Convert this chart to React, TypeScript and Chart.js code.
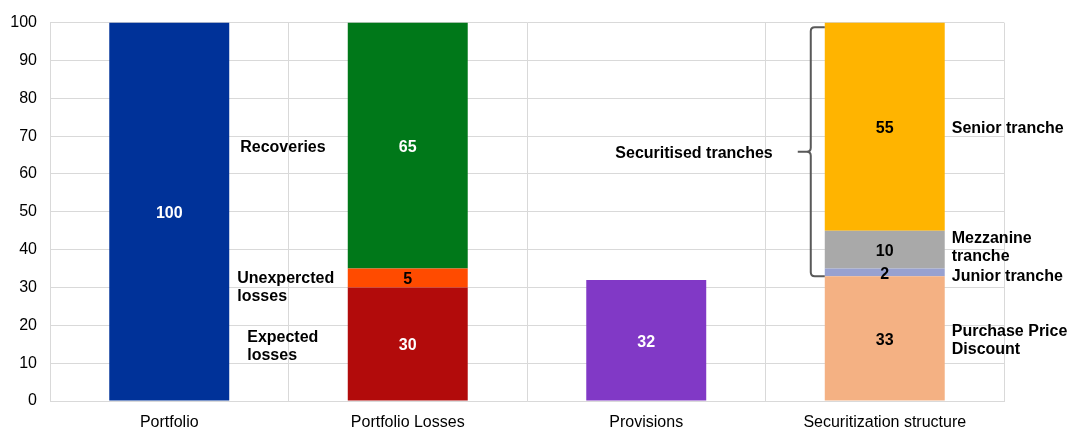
import React, { useEffect, useRef } from "react";
import { Chart, registerables } from "chart.js";

Chart.register(...registerables);

const categories = ["Portfolio", "Portfolio Losses", "Provisions", "Securitization structure"];
const yTicks = [0, 10, 20, 30, 40, 50, 60, 70, 80, 90, 100];

// stacked layers, bottom to top
const layer1 = [100, 30, 32, 33];
const layer2 = [null, 5, null, 2];
const layer3 = [null, 65, null, 10];
const layer4 = [null, null, null, 55];

const layer1Colors = ["#003299", "#B20B0B", "#8139C6", "#F4B183"];
const layer2Colors = ["#003299", "#FF4B00", "#8139C6", "#98A1D0"];
const layer3Colors = ["#003299", "#007819", "#8139C6", "#A9A9A9"];
const layer4Colors = ["#003299", "#007819", "#8139C6", "#FFB400"];

const layer1LabelColors = ["#FFFFFF", "#FFFFFF", "#FFFFFF", "#000000"];
const layer2LabelColors = ["#000000", "#000000", "#000000", "#000000"];
const layer3LabelColors = ["#FFFFFF", "#FFFFFF", "#FFFFFF", "#000000"];
const layer4LabelColors = ["#000000", "#000000", "#000000", "#000000"];

// side annotations: category, value (data coordinate) where the text block is centered
const annotations = [
  { cat: 0, value: 67.5, dx: 11, lines: ["Recoveries"] },
  { cat: 0, value: 30.5, dx: 8, lines: ["Unexpercted", "losses"] },
  { cat: 0, value: 14.8, dx: 18, lines: ["Expected", "losses"] },
  { cat: 3, value: 72.5, dx: 7, lines: ["Senior tranche"] },
  { cat: 3, value: 41, dx: 7, lines: ["Mezzanine", "tranche"] },
  { cat: 3, value: 33.5, dx: 7, lines: ["Junior tranche"] },
  { cat: 3, value: 16.5, dx: 7, lines: ["Purchase Price", "Discount"] },
];
const braceLabel = "Securitised tranches";
const braceFrom = 33;
const braceTo = 98.8;

const FONT = "'Liberation Sans', Arial, sans-serif";

const labelsPlugin = {
  id: "customLabels",
  afterDatasetsDraw(chart: any) {
    const ctx = chart.ctx;
    ctx.save();
    ctx.font = `bold 16px ${FONT}`;
    ctx.textAlign = "center";
    ctx.textBaseline = "middle";
    chart.data.datasets.forEach((ds: any, di: number) => {
      const meta = chart.getDatasetMeta(di);
      meta.data.forEach((el: any, i: number) => {
        const v = ds.data[i];
        if (v === null || v === undefined) return;
        ctx.fillStyle = ds.labelColors[i];
        const cy = (el.y + el.base) / 2;
        ctx.fillText(String(v), el.x, cy + 2);
      });
    });

    const ys = chart.scales.y;
    const meta0 = chart.getDatasetMeta(0);
    ctx.fillStyle = "#000000";
    ctx.textAlign = "left";
    annotations.forEach((a) => {
      const el: any = meta0.data[a.cat];
      const left = el.x + el.width / 2 + a.dx;
      const cy = ys.getPixelForValue(a.value) + 2;
      const lh = 18;
      const start = cy - ((a.lines.length - 1) * lh) / 2;
      a.lines.forEach((ln, k) => ctx.fillText(ln, left, start + k * lh));
    });

    // brace next to the securitised tranches
    const el3: any = meta0.data[3];
    const barLeft = el3.x - el3.width / 2;
    const yTop = ys.getPixelForValue(braceTo);
    const yBot = ys.getPixelForValue(braceFrom);
    const yMid = (yTop + yBot) / 2;
    const xv = barLeft - 14;
    const xh = barLeft;
    const r = 4;
    ctx.strokeStyle = "#595959";
    ctx.lineWidth = 2;
    ctx.beginPath();
    ctx.moveTo(xh, yTop);
    ctx.lineTo(xv + r, yTop);
    ctx.quadraticCurveTo(xv, yTop, xv, yTop + r);
    ctx.lineTo(xv, yMid - r);
    ctx.quadraticCurveTo(xv, yMid, xv - r, yMid);
    ctx.lineTo(xv - 13, yMid);
    ctx.moveTo(xv - r, yMid);
    ctx.quadraticCurveTo(xv, yMid, xv, yMid + r);
    ctx.lineTo(xv, yBot - r);
    ctx.quadraticCurveTo(xv, yBot, xv + r, yBot);
    ctx.lineTo(xh, yBot);
    ctx.stroke();

    ctx.textAlign = "right";
    ctx.fillText(braceLabel, xv - 38, yMid + 2);
    ctx.restore();
  },
};

export default function App() {
  const ref = useRef<HTMLCanvasElement | null>(null);
  useEffect(() => {
    if (!ref.current) return;
    const mk = (data: any[], bg: string[], lc: string[]) => ({
      data,
      backgroundColor: bg,
      labelColors: lc,
      borderWidth: 0,
      categoryPercentage: 1,
      barPercentage: 0.503,
    });
    const chart = new Chart(ref.current, {
      type: "bar",
      data: {
        labels: categories,
        datasets: [
          mk(layer1, layer1Colors, layer1LabelColors),
          mk(layer2, layer2Colors, layer2LabelColors),
          mk(layer3, layer3Colors, layer3LabelColors),
          mk(layer4, layer4Colors, layer4LabelColors),
        ] as any,
      },
      options: {
        animation: false,
        responsive: false,
        maintainAspectRatio: false,
        layout: { padding: { top: 22, right: 66, left: 0, bottom: 0 } },
        plugins: { legend: { display: false }, tooltip: { enabled: false } },
        scales: {
          x: {
            stacked: true,
            grid: { color: "#D9D9D9", drawTicks: false, offset: true },
            border: { color: "#D9D9D9" },
            ticks: { color: "#000000", font: { family: FONT, size: 16 }, padding: 12 },
            afterFit: (s: any) => {
              s.height = 28;
            },
          },
          y: {
            stacked: true,
            min: 0,
            max: 100,
            afterBuildTicks: (s: any) => {
              s.ticks = yTicks.map((v) => ({ value: v }));
            },
            grid: { color: "#D9D9D9", drawTicks: false },
            border: { color: "#D9D9D9" },
            ticks: { color: "#000000", font: { family: FONT, size: 16 }, padding: 13 },
            afterFit: (s: any) => {
              s.width = 50;
            },
          },
        },
      },
      plugins: [labelsPlugin],
    } as any);
    return () => chart.destroy();
  }, []);
  return (
    <div style={{ position: "fixed", left: 0, top: 0, width: 1070, height: 429, background: "#fff" }}>
      <canvas ref={ref} width={1070} height={429} style={{ width: 1070, height: 429 }} />
    </div>
  );
}
